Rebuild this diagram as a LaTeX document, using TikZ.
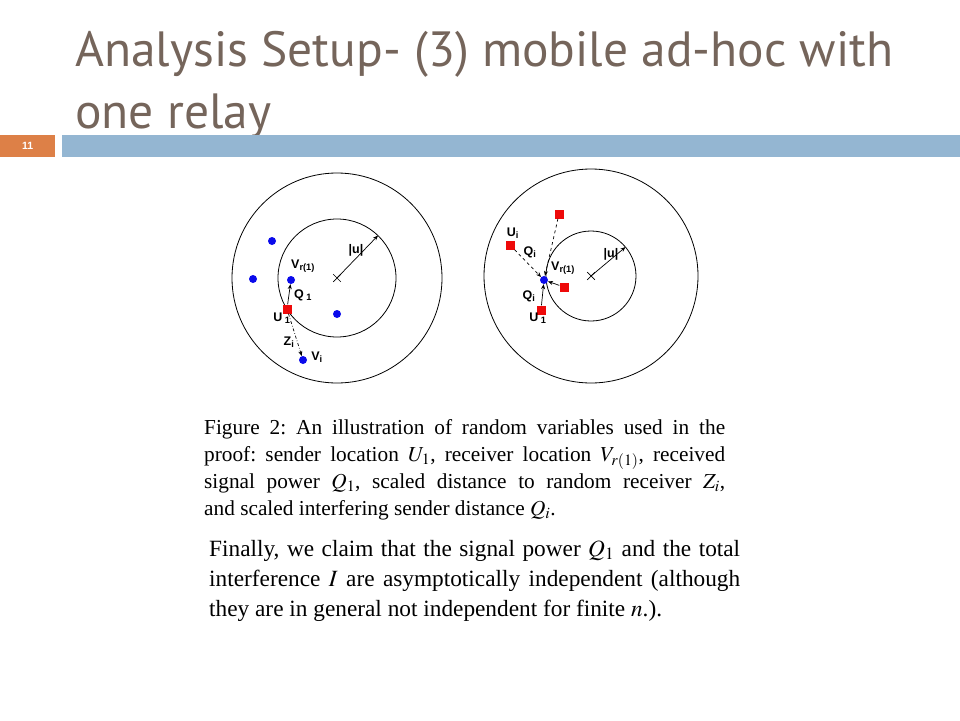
\documentclass[tikz,border=0pt]{standalone}
\usepackage{mathptmx}
\usepackage{fontspec}
\setmainfont{Liberation Serif}
\setsansfont{Liberation Sans}
\newfontfamily\titlefont{PT Sans}
\usepackage{xcolor}
\usetikzlibrary{arrows.meta,positioning,shapes.misc}
\definecolor{titlebrown}{RGB}{117,101,91}
\definecolor{barblue}{RGB}{148,182,210}
\definecolor{numorange}{RGB}{221,128,71}
\definecolor{dotblue}{RGB}{10,10,235}
\definecolor{sqred}{RGB}{238,10,10}

\begin{document}
\begin{tikzpicture}[x=1pt, y=-1pt,
  ring/.style={draw, circle, inner sep=0pt, outer sep=0pt, line width=0.8pt},
  centre/.style={draw, cross out, inner sep=0pt, minimum size=7pt, line width=0.7pt},
  rcv/.style={circle, fill=dotblue, inner sep=0pt, minimum size=8pt},
  snd/.style={rectangle, fill=sqred, inner sep=0pt, minimum size=9pt},
  lbl/.style={font=\sffamily\bfseries\fontsize{12.5}{12.5}\selectfont, inner sep=1pt},
  arrow/.style={-{Stealth[length=5pt,width=4pt]}, line width=0.7pt},
  caption/.style={anchor=north west, align=justify, inner sep=0pt, font=\fontsize{21.3}{27}\selectfont}
]
\useasboundingbox (0,0) rectangle (960,720);
\node[anchor=base west, inner sep=0pt, text=titlebrown, font=\titlefont\fontsize{49.5}{49.5}\selectfont] (title1) at (75,66) {Analysis Setup- (3) mobile ad-hoc with};
\node[anchor=base west, inner sep=0pt, text=titlebrown, font=\titlefont\fontsize{49.5}{49.5}\selectfont] (title2) at (75,128) {one relay};
\fill[barblue] (62,135) rectangle (960,157);
\node[anchor=north west, fill=numorange, minimum width=55, minimum height=22, inner sep=0pt, text=white, font=\sffamily\bfseries\fontsize{10.5}{10.5}\selectfont] (pagenum) at (0,135) {11};

% left picture
\coordinate (lc) at (337,278);
\node[ring, minimum size=210] (louter) at (lc) {};
\node[ring, minimum size=118] (linner) at (lc) {};
\node[centre] (lx) at (lc) {};
\draw[arrow] (lx.center) -- (linner.46);
\node[lbl] (lrad) at (356,250) {|u|};
\node[rcv] (lv1) at (272,241) {};
\node[rcv] (lv2) at (253,279) {};
\node[rcv] (lvr) at (291,280) {};
\node[rcv] (lv3) at (337,314) {};
\node[rcv] (lvi) at (303,360) {};
\node[snd] (lu1) at (287,309) {};
\draw[arrow] (lu1) -- (lvr);
\draw[arrow, dash dot] (lu1) -- (lvi);
\node[lbl, anchor=west] (lvrlab) at (290,266) {V\textsubscript{r(1)}};
\node[lbl] (lq1lab) at (303,295) {Q\textsubscript{ 1}};
\node[lbl] (lu1lab) at (282,318) {U\textsubscript{ 1}};
\node[lbl] (lzilab) at (289,342) {Z\textsubscript{i}};
\node[lbl] (lvilab) at (317,357) {V\textsubscript{i}};

% right picture
\coordinate (rc) at (591,276);
\node[ring, minimum size=214] (router) at (rc) {};
\node[ring, minimum size=90] (rinner) at (rc) {};
\node[centre] (rx) at (rc) {};
\draw[arrow] (rx.center) -- (rinner.40);
\node[lbl] (rrad) at (611,254) {|u|};
\node[rcv] (rvr) at (544,280) {};
\node[snd] (rq1) at (559,214) {};
\node[snd] (rui) at (510,245) {};
\node[snd] (rq2) at (564,287) {};
\node[snd] (ru1) at (541,310) {};
\draw[arrow, dashed] (rq1) -- (rvr);
\draw[arrow, dashed] (rui) -- (rvr);
\draw[arrow] (rq2) -- (rvr);
\draw[arrow] (ru1) -- (rvr);
\node[lbl] (ruilab) at (513,233) {U\textsubscript{i}};
\node[lbl] (rqilab) at (530,252) {Q\textsubscript{i}};
\node[lbl, anchor=west] (rvrlab) at (550,268) {V\textsubscript{r(1)}};
\node[lbl] (rq1lab) at (529,296) {Q\textsubscript{i}};
\node[lbl] (ru1lab) at (538,318) {U\textsubscript{ 1}};

% text
\node[caption, text width=521] (fig) at (204,419) {\frenchspacing\hyphenpenalty=10000 Figure 2: An illustration of random variables used in the\linebreak proof: sender location $U_1$, receiver location $V_{r(1)}$, received\linebreak signal power $Q_1$, scaled distance to random receiver $Z_i$,\linebreak and scaled interfering sender distance $Q_i$.};
\node[caption, text width=531, font=\fontsize{23.3}{30}\selectfont] (claim) at (209,540) {\frenchspacing\hyphenpenalty=10000 Finally, we claim that the signal power $Q_1$ and the total\linebreak interference $I$ are asymptotically independent (although\linebreak they are in general not independent for finite $n$.).};
\end{tikzpicture}
\end{document}
